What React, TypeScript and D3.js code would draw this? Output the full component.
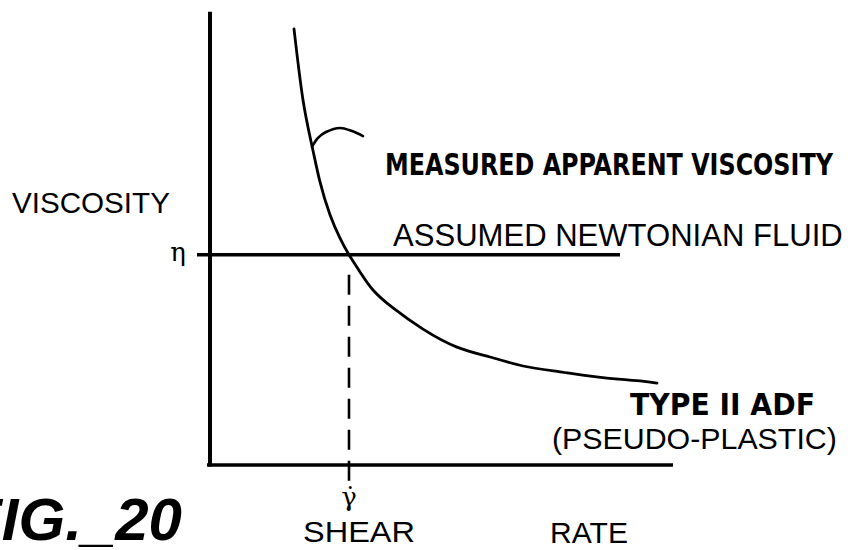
import React, { useLayoutEffect, useRef, useState } from "react";
import * as d3 from "d3";

// Measured apparent viscosity curve (arbitrary units)
const shearRate = [1.68, 1.86, 2.04, 2.2, 2.4, 2.6, 2.78, 3.0, 3.26, 3.66, 4.26, 4.94, 5.6, 6.26, 7.0, 7.94, 8.6, 8.94];
const viscosity = [9.69, 8.11, 7.09, 6.29, 5.56, 5.04, 4.67, 4.29, 3.89, 3.49, 3.02, 2.62, 2.4, 2.2, 2.07, 1.93, 1.87, 1.82];

// Leader hook pointing at the measured curve
const hookX = [2.04, 2.16, 2.32, 2.6, 2.84, 3.06];
const hookY = [7.07, 7.27, 7.4, 7.49, 7.42, 7.31];

// Assumed Newtonian fluid
const etaValue = 4.67;
const etaStart = -0.26;
const etaEnd = 8.2;
const gammaDot = 2.78;
const dashBottom = -0.4;

// Axis extents
const xAxisExtent = [-0.06, 9.26];
const yAxisExtent = [0, 10.07];

const labels = {
  measured: "MEASURED APPARENT VISCOSITY",
  newtonian: "ASSUMED NEWTONIAN FLUID",
  yTitle: "VISCOSITY",
  eta: "η",
  gamma: "γ̇",
  shear: "SHEAR",
  rate: "RATE",
  type: "TYPE II ADF",
  pseudo: "(PSEUDO-PLASTIC)",
  fig: "FIG._20",
};

const helv = "'Liberation Sans', Arial, Helvetica, sans-serif";
const cond = "'Liberation Sans Narrow', 'DejaVu Sans Condensed', 'Liberation Sans', sans-serif";
const serif = "'DejaVu Serif', 'Liberation Serif', serif";

function FitText(props: {
  x: number;
  y: number;
  width: number;
  fontFamily: string;
  fontSize: number;
  fontWeight?: string;
  children: string;
}) {
  const ref = useRef<SVGTextElement>(null);
  const [sx, setSx] = useState(1);
  useLayoutEffect(() => {
    if (ref.current) {
      const w = ref.current.getComputedTextLength();
      if (w > 0) setSx(props.width / w);
    }
  }, [props.width, props.children, props.fontFamily, props.fontSize]);
  return (
    <text
      ref={ref}
      x={0}
      y={0}
      transform={`translate(${props.x},${props.y}) scale(${sx},1)`}
      fontFamily={props.fontFamily}
      fontSize={props.fontSize}
      fontWeight={props.fontWeight || "normal"}
    >
      {props.children}
    </text>
  );
}

export default function App() {
  const W = 851;
  const H = 550;
  const x = d3.scaleLinear().domain([0, 10]).range([210, 710]);
  const y = d3.scaleLinear().domain([0, 10]).range([465, 15]);

  const curveLine = d3
    .line<[number, number]>()
    .x((d) => x(d[0]))
    .y((d) => y(d[1]))
    .curve(d3.curveNatural);

  const hookLine = d3
    .line<[number, number]>()
    .x((d) => x(d[0]))
    .y((d) => y(d[1]))
    .curve(d3.curveCatmullRom.alpha(0.5));

  const curvePts: [number, number][] = shearRate.map((v, i) => [v, viscosity[i]]);
  const hookPts: [number, number][] = hookX.map((v, i) => [v, hookY[i]]);

  return (
    <svg
      width={W}
      height={H}
      viewBox={`0 0 ${W} ${H}`}
      style={{ position: "absolute", left: 0, top: 0, background: "#fff" }}
    >
      <rect x={0} y={0} width={W} height={H} fill="#fff" />
      {/* axes */}
      <line x1={x(0)} x2={x(0)} y1={y(yAxisExtent[0]) + 1.5} y2={y(yAxisExtent[1])} stroke="#000" strokeWidth={4} />
      <line x1={x(xAxisExtent[0])} x2={x(xAxisExtent[1])} y1={y(0)} y2={y(0)} stroke="#000" strokeWidth={3.5} />

      {/* Newtonian line */}
      <line x1={x(etaStart)} x2={x(etaEnd)} y1={y(etaValue)} y2={y(etaValue)} stroke="#000" strokeWidth={3.5} />

      {/* dashed shear-rate marker */}
      <line
        x1={x(gammaDot)}
        x2={x(gammaDot)}
        y1={y(etaValue) + 20}
        y2={y(dashBottom)}
        stroke="#000"
        strokeWidth={2.6}
        strokeDasharray="20 11"
      />

      {/* measured curve */}
      <path d={curveLine(curvePts) || ""} fill="none" stroke="#000" strokeWidth={2.8} strokeLinecap="round" />
      <path d={hookLine(hookPts) || ""} fill="none" stroke="#000" strokeWidth={2.6} strokeLinecap="round" />

      {/* labels */}
      <FitText x={385} y={175} width={448} fontFamily={cond} fontWeight="bold" fontSize={31}>
        {labels.measured}
      </FitText>
      <FitText x={393} y={246} width={450} fontFamily={helv} fontSize={31}>
        {labels.newtonian}
      </FitText>
      <FitText x={12} y={213} width={158} fontFamily={helv} fontSize={30}>
        {labels.yTitle}
      </FitText>
      <text x={178} y={261} fontFamily={serif} fontSize={26} textAnchor="middle">
        {labels.eta}
      </text>
      <text x={x(gammaDot)} y={506} fontFamily={serif} fontSize={26} textAnchor="middle">
        {labels.gamma}
      </text>
      <FitText x={303} y={542} width={112} fontFamily={helv} fontSize={30}>
        {labels.shear}
      </FitText>
      <FitText x={550} y={543} width={78} fontFamily={helv} fontSize={30}>
        {labels.rate}
      </FitText>
      <FitText x={630} y={415} width={185} fontFamily={cond} fontWeight="bold" fontSize={31}>
        {labels.type}
      </FitText>
      <FitText x={552} y={449} width={285} fontFamily={helv} fontSize={30}>
        {labels.pseudo}
      </FitText>
      <text x={182} y={540} fontFamily={helv} fontSize={60} fontWeight="bold" fontStyle="italic" textAnchor="end">
        {labels.fig}
      </text>
    </svg>
  );
}
